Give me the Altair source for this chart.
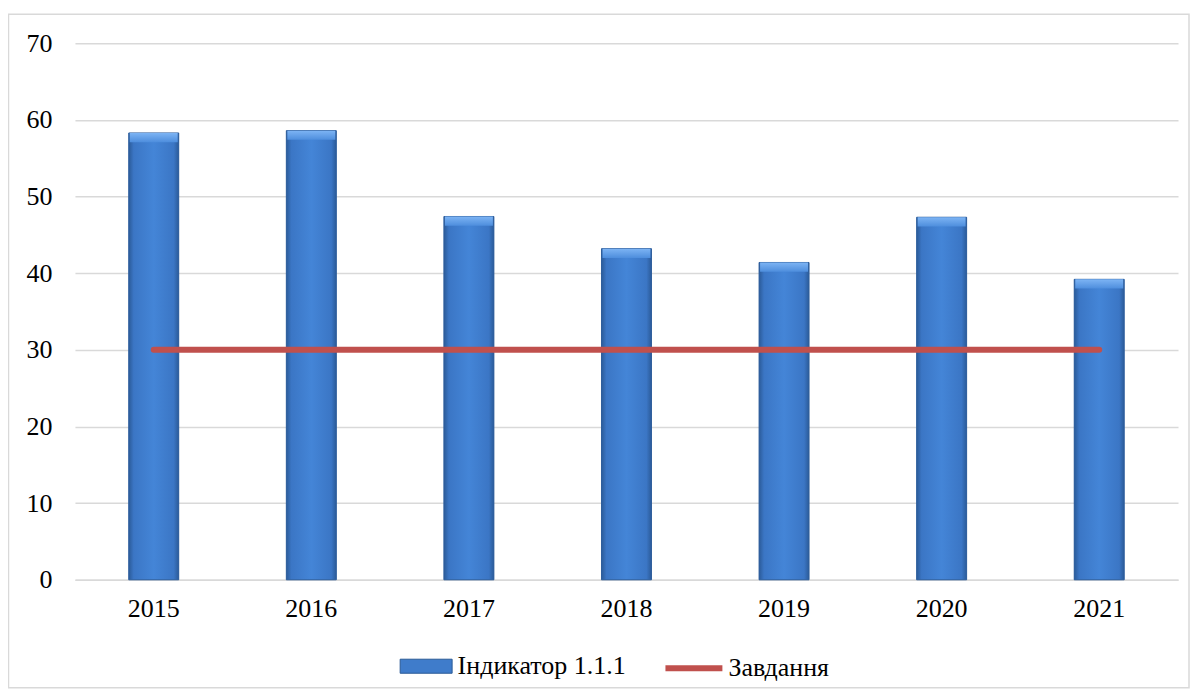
import altair as alt
import pandas as pd

years = ["2015", "2016", "2017", "2018", "2019", "2020", "2021"]
indicator = [58.3, 58.6, 47.4, 43.2, 41.4, 47.3, 39.2]
target = [30, 30, 30, 30, 30, 30, 30]
bar_name = "Індикатор 1.1.1"
line_name = "Завдання"

df = pd.DataFrame({
    "year": years,
    "value": indicator,
    "target": target,
    "sb": [bar_name] * len(years),
    "sl": [line_name] * len(years),
})

FONT = "Liberation Serif"
W, H = 1104, 537

x_enc = alt.X("year:N", sort=years, title=None,
              scale=alt.Scale(paddingInner=0, paddingOuter=0),
              axis=alt.Axis(labelAngle=0, ticks=False, domain=True, domainColor="#D9D9D9",
                            domainWidth=1.5, labelFont=FONT, labelFontSize=26,
                            labelColor="black", labelPadding=16, grid=False))
y_scale = alt.Scale(domain=[0, 70], nice=False)
y_axis = alt.Axis(values=[0, 10, 20, 30, 40, 50, 60, 70], ticks=False, domain=False,
                  grid=True, gridColor="#D9D9D9", gridWidth=1.5, labelFont=FONT,
                  labelFontSize=26, labelColor="black", labelPadding=23, title=None)

base = alt.Chart(df)

bars_legend = base.mark_bar(size=50).encode(
    x=x_enc,
    y=alt.Y("value:Q", scale=y_scale, axis=y_axis),
    fill=alt.Fill("sb:N", scale=alt.Scale(range=["#3F7CCB"]),
                  legend=alt.Legend(orient="none", legendX=325, legendY=597, title=None,
                                    symbolType="M-1,-0.27H1V0.27H-1Z", symbolSize=2704,
                                    symbolStrokeColor="#2A5A96", symbolStrokeWidth=1,
                                    labelFont=FONT, labelFontSize=26, labelColor="black",
                                    labelLimit=0, labelOffset=5, padding=0)),
)

grad = alt.Gradient(
    gradient="linear", x1=0, x2=1, y1=0, y2=0,
    stops=[
        alt.GradientStop(offset=0, color="#2B5B99"),
        alt.GradientStop(offset=0.1, color="#3B76C5"),
        alt.GradientStop(offset=0.5, color="#4485D7"),
        alt.GradientStop(offset=0.9, color="#3B76C5"),
        alt.GradientStop(offset=1, color="#2B5B99"),
    ],
)
bars = base.mark_bar(size=50, fill=grad, stroke="#2F5E9C", strokeWidth=1).encode(
    x=alt.X("year:N", sort=years),
    y=alt.Y("value:Q"),
)

bevel_grad = alt.Gradient(
    gradient="linear", x1=0, x2=0, y1=0, y2=1,
    stops=[
        alt.GradientStop(offset=0, color="#7DB4F4"),
        alt.GradientStop(offset=1, color="#4E8EDD"),
    ],
)
bevel = base.transform_calculate(vb="datum.value - 1.2").mark_bar(size=48, fill=bevel_grad).encode(
    x=alt.X("year:N", sort=years),
    y=alt.Y("value:Q"),
    y2="vb:Q",
)

line = base.mark_line(strokeWidth=6, strokeCap="round").encode(
    x=alt.X("year:N", sort=years),
    y=alt.Y("target:Q"),
    stroke=alt.Stroke("sl:N", scale=alt.Scale(range=["#C0504D"]),
                      legend=alt.Legend(orient="none", legendX=588, legendY=594, title=None,
                                        symbolType="stroke", symbolSize=3249,
                                        symbolStrokeWidth=6,
                                        labelFont=FONT, labelFontSize=26, labelColor="black",
                                        labelLimit=0, labelOffset=3, padding=0)),
)

border = alt.Chart(pd.DataFrame({"a": [0]})).mark_rect(
    fill=None, stroke="#D9D9D9", strokeWidth=1.5
).encode(
    x=alt.value(-66.5), x2=alt.value(W + 11), y=alt.value(-29), y2=alt.value(H + 108)
)

chart = alt.layer(border, bars_legend, bars, bevel, line).resolve_scale(
    fill="independent", stroke="independent"
).properties(
    width=W, height=H,
    autosize=alt.AutoSizeParams(type="none"),
    padding={"left": 67, "top": 35, "right": 13, "bottom": 109},
).configure(font=FONT).configure_view(stroke=None).configure_legend(
    labelFont=FONT, labelFontSize=26, labelColor="black", labelLimit=0
)

chart.save("out.html", embed_options={"renderer": "svg", "actions": False})
